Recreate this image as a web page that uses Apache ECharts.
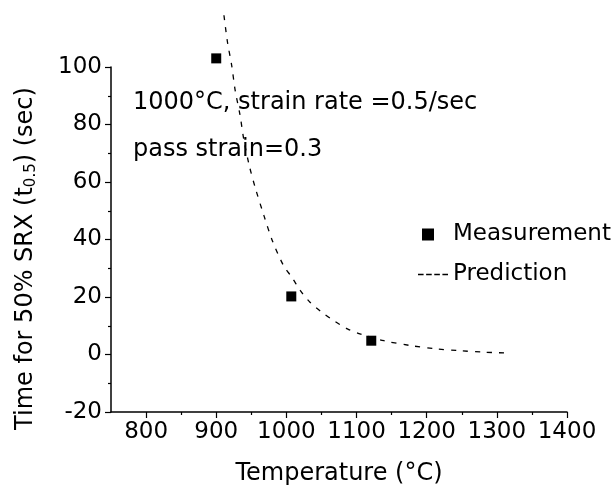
<!DOCTYPE html>
<html>
<head>
<meta charset="utf-8">
<script src="https://cdn.jsdelivr.net/npm/echarts@6/dist/echarts.min.js"></script>
<style>
html,body{margin:0;padding:0;background:#fff;}
#chart{width:612px;height:491px;}
</style>
</head>
<body>
<div id="chart"></div>
<script>
// Measurement points
var measTemp = [900, 1007, 1121];
var measTime = [103, 20.2, 4.8];
// Prediction curve
var predTemp = [911, 916, 922, 927, 934, 939, 947, 956, 968, 980, 996, 1008, 1020, 1034, 1051, 1068, 1087, 1106, 1139, 1177, 1212, 1248, 1283, 1318];
var predTime = [118, 108.7, 100.6, 91.9, 83.2, 75.2, 65.8, 57.7, 48.3, 39.6, 30.9, 26.8, 22.2, 18.1, 14.6, 11.7, 8.9, 7.1, 4.8, 3.1, 2.0, 1.3, 0.8, 0.5];
// Axis ticks
var xMajor = [800, 900, 1000, 1100, 1200, 1300, 1400];
var xMinor = [850, 950, 1050, 1150, 1250, 1350];
var annotLines = ['1000\u00B0C, strain rate =0.5/sec', 'pass strain=0.3'];

var FONT = '"DejaVu Sans", sans-serif';
var chart = echarts.init(document.getElementById('chart'), null, {renderer: 'canvas'});

var measData = measTemp.map(function (t, i) { return [t, measTime[i]]; });
var predData = predTemp.map(function (t, i) { return [t, predTime[i]]; });

chart.setOption({
  backgroundColor: '#fff',
  animation: false,
  textStyle: {fontFamily: FONT, color: '#000'},
  grid: {left: 111, right: 45, top: 67, bottom: 79},
  legend: {
    orient: 'vertical',
    left: 418,
    top: 223,
    itemGap: 17,
    itemWidth: 30,
    itemHeight: 12,
    padding: 0,
    textStyle: {fontFamily: FONT, fontSize: 23, color: '#000'},
    data: [
      {name: 'Measurement', icon: 'path://M0,6L0,6.01 M4,0H16V12H4Z M30,6L30,6.01'},
      {name: 'Prediction', icon: 'path://M0,0H5.5V1.6H0Z M8,0H13.5V1.6H8Z M16,0H21.5V1.6H16Z M24,0H29.5V1.6H24Z'}
    ]
  },
  xAxis: [{
    type: 'value',
    min: 750, max: 1400,
    name: 'Temperature (\u00B0C)',
    nameLocation: 'middle',
    nameGap: 50,
    nameTextStyle: {fontFamily: FONT, fontSize: 24, color: '#000'},
    axisLine: {show: true, onZero: false, lineStyle: {color: '#000', width: 1.5}},
    axisTick: {show: true, customValues: xMajor, length: 6, lineStyle: {color: '#000', width: 1.2}},
    axisLabel: {show: true, customValues: xMajor, fontFamily: FONT, fontSize: 23, color: '#000', margin: 9,
      formatter: function (v) { return String(v); }},
    splitLine: {show: false}
  }, {
    type: 'value',
    min: 750, max: 1400,
    position: 'bottom',
    axisLine: {show: false, onZero: false},
    axisTick: {show: true, customValues: xMinor, length: 3, lineStyle: {color: '#000', width: 1.2}},
    axisLabel: {show: false},
    splitLine: {show: false}
  }],
  yAxis: {
    type: 'value',
    min: -20, max: 100, interval: 20,
    name: 'Time for 50% SRX (t{sub|0.5}) (sec)',
    nameLocation: 'middle',
    nameGap: 72,
    nameRotate: 90,
    nameTextStyle: {
      fontFamily: FONT, fontSize: 24, color: '#000',
      padding: [0, 38, 0, 0],
      rich: {sub: {fontFamily: FONT, fontSize: 15, color: '#000', verticalAlign: 'bottom', padding: [12, 0, 0, 0]}}
    },
    axisLine: {show: true, onZero: false, lineStyle: {color: '#000', width: 1.5}},
    axisTick: {show: true, length: 6, lineStyle: {color: '#000', width: 1.2}},
    minorTick: {show: true, splitNumber: 2, length: 3, lineStyle: {color: '#000', width: 1.2}},
    axisLabel: {fontFamily: FONT, fontSize: 23, color: '#000', margin: 9},
    splitLine: {show: false}
  },
  series: [{
    name: 'Measurement',
    type: 'scatter',
    data: measData,
    symbol: 'rect',
    symbolSize: 10,
    clip: false,
    itemStyle: {color: '#000', opacity: 1},
    z: 3
  }, {
    name: 'Prediction',
    type: 'line',
    data: predData,
    smooth: 0.3,
    showSymbol: false,
    symbol: 'none',
    clip: false,
    lineStyle: {color: '#000', width: 1.3, type: [5, 7]},
    itemStyle: {color: '#000'},
    z: 2
  }],
  graphic: [{
    type: 'text',
    left: 133, top: 91,
    style: {text: annotLines[0], font: '24px ' + FONT, fill: '#000'}
  }, {
    type: 'text',
    left: 133, top: 138,
    style: {text: annotLines[1], font: '24px ' + FONT, fill: '#000'}
  }]
});
</script>
</body>
</html>
